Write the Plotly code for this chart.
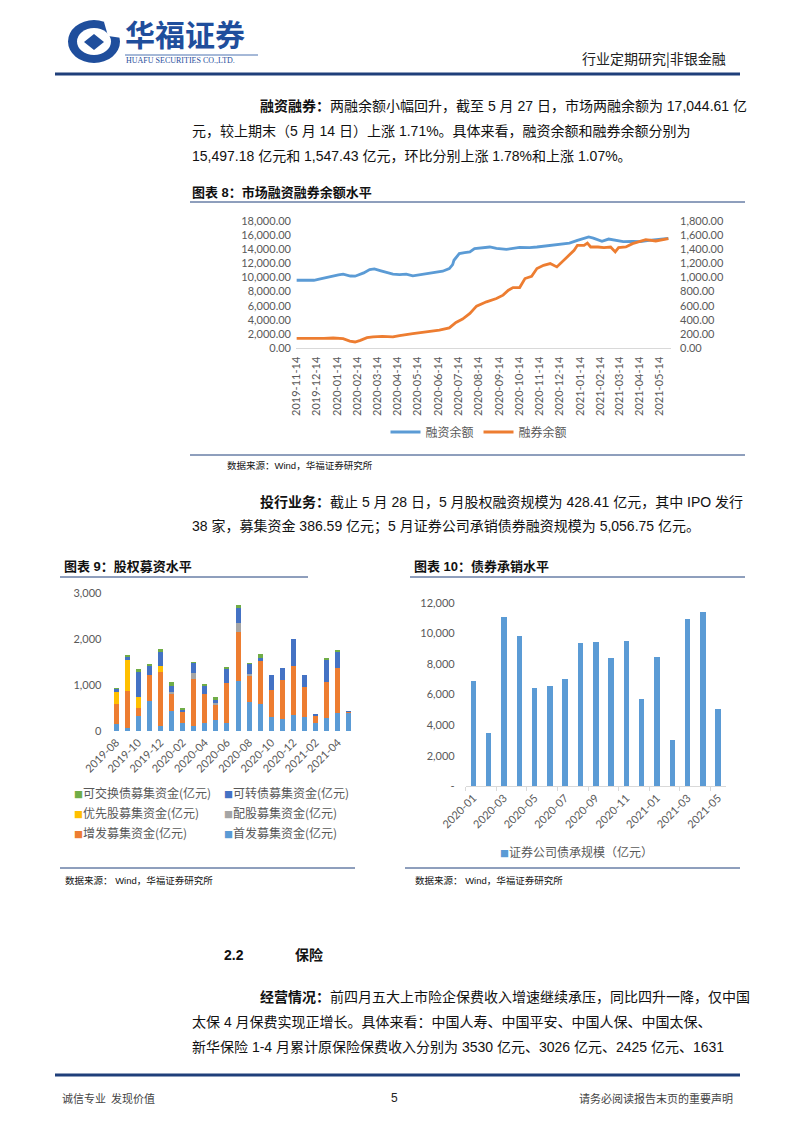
import plotly.graph_objects as go

W, H = 794, 1123
OFF = 8  # the page body adds an 8px margin around the figure


def px(x):
    return (x - OFF) / W


def py(y):
    return 1 - (y - OFF) / H


# ---------------- data ----------------
# 图表8: 融资余额 (left axis) / 融券余额 (right axis)
fin_dates = ['2019-11-14', '2019-11-21', '2019-12-03', '2019-12-10', '2019-12-18', '2019-12-28',
             '2020-01-08', '2020-01-16', '2020-01-23', '2020-02-03', '2020-02-10', '2020-02-17',
             '2020-02-23', '2020-03-03', '2020-03-10', '2020-03-20', '2020-03-30', '2020-04-07',
             '2020-04-17', '2020-04-27', '2020-05-07', '2020-05-14', '2020-05-22', '2020-06-06',
             '2020-06-21', '2020-07-01', '2020-07-06', '2020-07-08', '2020-07-13', '2020-07-16',
             '2020-07-24', '2020-08-01', '2020-08-08', '2020-08-20', '2020-08-31', '2020-09-10',
             '2020-09-25', '2020-10-15', '2020-10-30', '2020-11-10', '2020-11-20', '2020-12-05',
             '2020-12-18', '2020-12-29', '2021-01-10', '2021-01-20', '2021-01-27', '2021-02-03',
             '2021-02-10', '2021-02-16', '2021-02-26', '2021-03-09', '2021-03-20', '2021-04-03',
             '2021-04-15', '2021-04-28', '2021-05-10', '2021-05-20', '2021-05-27']
fin_values = [9600, 9580, 9520, 9600, 9750, 9980,
              10170, 10350, 10450, 10200, 10170, 10400,
              10640, 11110, 11200, 10920, 10600, 10450,
              10400, 10450, 10210, 10300, 10450, 10640,
              10870, 11250, 11800, 12420, 13100, 13360,
              13500, 13590, 14060, 14200, 14290, 14100,
              13950, 14250, 14200, 14290, 14400, 14620,
              14750, 14850, 15230, 15500, 15700, 15550,
              15330, 15090, 15410, 15230, 15050, 15090,
              15050, 15230, 15300, 15400, 15497]

sec_dates = ['2019-11-14', '2019-11-28', '2019-12-13', '2019-12-25', '2020-01-08', '2020-01-15',
             '2020-01-23', '2020-02-02', '2020-02-10', '2020-02-18', '2020-02-28', '2020-03-08',
             '2020-03-22', '2020-04-07', '2020-04-17', '2020-05-07', '2020-05-27', '2020-06-16',
             '2020-07-01', '2020-07-11', '2020-07-21', '2020-08-01', '2020-08-11', '2020-08-26',
             '2020-09-10', '2020-09-20', '2020-09-28', '2020-10-05', '2020-10-15', '2020-10-23',
             '2020-11-02', '2020-11-10', '2020-11-20', '2020-11-30', '2020-12-10', '2020-12-15',
             '2020-12-25', '2021-01-05', '2021-01-10', '2021-01-20', '2021-01-25', '2021-01-30',
             '2021-02-10', '2021-02-19', '2021-03-01', '2021-03-08', '2021-03-13', '2021-03-24',
             '2021-04-03', '2021-04-13', '2021-04-23', '2021-05-08', '2021-05-18', '2021-05-27']
sec_values = [140, 138, 136, 140, 145, 142,
              136, 101, 89, 112, 150, 160,
              168, 160, 180, 206, 230, 257,
              288, 365, 412, 492, 595, 656,
              703, 750, 820, 857, 857, 984,
              1017, 1125, 1171, 1195, 1148, 1195,
              1288, 1382, 1453, 1453, 1485, 1429,
              1429, 1420, 1429, 1359, 1420, 1429,
              1476, 1500, 1533, 1514, 1533, 1547]

tick8 = ['2019-11-14', '2019-12-14', '2020-01-14', '2020-02-14', '2020-03-14', '2020-04-14',
         '2020-05-14', '2020-06-14', '2020-07-14', '2020-08-14', '2020-09-14', '2020-10-14',
         '2020-11-14', '2020-12-14', '2021-01-14', '2021-02-14', '2021-03-14', '2021-04-14',
         '2021-05-14']

# 图表9: 股权募资水平 (亿元)
months9 = ['2019-08', '2019-09', '2019-10', '2019-11', '2019-12', '2020-01', '2020-02', '2020-03',
           '2020-04', '2020-05', '2020-06', '2020-07', '2020-08', '2020-09', '2020-10', '2020-11',
           '2020-12', '2021-01', '2021-02', '2021-03', '2021-04', '2021-05']
tick9 = ['2019-08', '2019-10', '2019-12', '2020-02', '2020-04', '2020-06', '2020-08', '2020-10',
         '2020-12', '2021-02', '2021-04']
ipo9 = [150, 75, 330, 650, 115, 445, 180, 110, 165, 240, 180, 1090, 640, 590, 300, 255, 340, 310, 165, 275, 385, 387]
seo9 = [440, 800, 180, 580, 1175, 375, 240, 1015, 640, 325, 870, 1075, 565, 935, 595, 855, 1080, 640, 160, 800, 980, 30]
rights9 = [0, 0, 0, 0, 0, 35, 0, 130, 0, 50, 0, 180, 30, 0, 0, 0, 0, 0, 0, 0, 0, 0]
pref9 = [270, 680, 225, 0, 120, 0, 0, 0, 0, 0, 0, 0, 0, 0, 0, 0, 0, 0, 0, 0, 0, 0]
cb9 = [50, 50, 560, 185, 315, 125, 40, 220, 180, 60, 310, 325, 220, 60, 325, 255, 595, 270, 45, 470, 365, 11]
eb9 = [20, 50, 55, 45, 55, 80, 35, 20, 15, 55, 10, 75, 5, 95, 0, 0, 0, 0, 0, 20, 15, 0]

# 图表10: 债券承销水平 (亿元)
months10 = ['2020-01', '2020-02', '2020-03', '2020-04', '2020-05', '2020-06', '2020-07', '2020-08',
            '2020-09', '2020-10', '2020-11', '2020-12', '2021-01', '2021-02', '2021-03', '2021-04',
            '2021-05']
tick10 = ['2020-01', '2020-03', '2020-05', '2020-07', '2020-09', '2020-11', '2021-01', '2021-03', '2021-05']
bond10 = [6890, 3480, 11050, 9830, 6450, 6560, 7040, 9370, 9420, 8370, 9500, 5690, 8440, 3030, 10920, 11380, 5057]
ytick10 = [0, 2000, 4000, 6000, 8000, 10000, 12000]
ytext10 = ['-', '2,000', '4,000', '6,000', '8,000', '10,000', '12,000']

# ---------------- styles ----------------
BLUE = '#5B9BD5'
ORANGE = '#ED7D31'
GRAY = '#A5A5A5'
YELLOW = '#FFC000'
DBLUE = '#4472C4'
GREEN = '#70AD47'
NAVY = '#1F3F7A'
LOGO = '#1F4E9C'
AXTXT = '#595959'
CJK = 'Noto Sans CJK SC'
BODY = 'Liberation Sans, Noto Sans CJK SC'
TICK = 'Lato, Liberation Sans, Noto Sans CJK SC'

fig = go.Figure()

# chart 8
fig.add_trace(go.Scatter(x=fin_dates, y=fin_values, mode='lines', name='融资余额',
                         line=dict(color=BLUE, width=2.8), xaxis='x', yaxis='y', legend='legend'))
fig.add_trace(go.Scatter(x=sec_dates, y=sec_values, mode='lines', name='融券余额',
                         line=dict(color=ORANGE, width=2.8), xaxis='x', yaxis='y2', legend='legend'))

# chart 9 (stack bottom -> top)
series9 = [('首发募集资金(亿元)', ipo9, BLUE), ('增发募集资金(亿元)', seo9, ORANGE),
           ('配股募集资金(亿元)', rights9, GRAY), ('优先股募集资金(亿元)', pref9, YELLOW),
           ('可转债募集资金(亿元)', cb9, DBLUE), ('可交换债募集资金(亿元)', eb9, GREEN)]
for name, vals, col in series9:
    fig.add_trace(go.Bar(x=months9, y=vals, name=name, marker=dict(color=col, line=dict(width=0)),
                         xaxis='x3', yaxis='y3', showlegend=False, width=0.45))

# chart 10
fig.add_trace(go.Bar(x=months10, y=bond10, name='证券公司债承规模（亿元）',
                     marker=dict(color=BLUE, line=dict(width=0)), xaxis='x4', yaxis='y4',
                     showlegend=False, width=0.36))

tickfont = dict(family=TICK, size=11, color=AXTXT)

fig.update_layout(
    width=W, height=H, margin=dict(l=0, r=0, t=0, b=0, pad=0, autoexpand=False),
    paper_bgcolor='white', plot_bgcolor='white',
    barmode='stack',
    showlegend=True,
    xaxis=dict(domain=[px(296), px(671)], anchor='y', type='date', automargin=False,
               range=['2019-11-13', '2021-05-31'], tickvals=tick8, tickformat='%Y-%m-%d',
               tickangle=-90, showgrid=False, zeroline=False, showline=True, linecolor='#D9D9D9',
               ticks='', tickfont=tickfont, ticklabelstandoff=3),
    yaxis=dict(domain=[py(348.3), py(220.7)], anchor='x', range=[0, 18000], dtick=2000,
               automargin=False,
               tickformat=',.2f', showgrid=False, zeroline=False, ticks='', tickfont=tickfont,
               ticklabelstandoff=4),
    yaxis2=dict(overlaying='y', side='right', anchor='x', range=[0, 1800], dtick=200,
                automargin=False,
                tickformat=',.2f', showgrid=False, zeroline=False, ticks='', tickfont=tickfont,
                ticklabelstandoff=8),
    xaxis3=dict(domain=[px(110.5), px(354.5)], anchor='y3', type='category', automargin=False,
                tickvals=tick9, ticktext=tick9, tickangle=-45, showgrid=False, zeroline=False,
                showline=False, ticks='', tickfont=tickfont, ticklabelstandoff=2),
    yaxis3=dict(domain=[py(731), py(593.3)], anchor='x3', range=[0, 3000], dtick=1000,
                automargin=False,
                tickformat=',', showgrid=False, zeroline=False, ticks='', tickfont=tickfont,
                ticklabelstandoff=8),
    xaxis4=dict(domain=[px(465.7), px(725.8)], anchor='y4', type='category', automargin=False,
                tickvals=tick10, ticktext=tick10, tickangle=-45, showgrid=False, zeroline=False,
                showline=True, linecolor='#D9D9D9', ticks='outside', tickson='boundaries',
                ticklen=4, tickcolor='#D9D9D9', tickfont=tickfont),
    yaxis4=dict(domain=[py(786.4), py(602.7)], anchor='x4', range=[0, 12000], automargin=False,
                tickvals=ytick10, ticktext=ytext10, showgrid=False, zeroline=False, ticks='',
                tickfont=tickfont, ticklabelstandoff=10),
    legend=dict(orientation='h', x=px(479), y=py(432), xanchor='center', yanchor='middle',
                font=dict(family=CJK, size=12, color=AXTXT), bgcolor='rgba(0,0,0,0)',
                itemwidth=30, traceorder='normal'),
)

annotations = []


def txt(x, y, text, size=14, color='#111111', anchor='left', family=BODY):
    annotations.append(dict(x=px(x), y=py(y), xref='paper', yref='paper', text=text,
                            showarrow=False, xanchor=anchor, yanchor='middle',
                            font=dict(family=family, size=size, color=color)))


# header
txt(123, 33, '<b>华福证券</b>', size=30, color=LOGO, family=CJK)
txt(124, 61, 'HUAFU SECURITIES CO.,LTD.', size=8, color=LOGO, family='Liberation Serif')
txt(728, 58, '行业定期研究|非银金融', size=14, color='#222222', anchor='right', family=CJK)

# paragraph 1
txt(258, 106, '<b>融资融券：</b>两融余额小幅回升，截至 5 月 27 日，市场两融余额为 17,044.61 亿')
txt(190, 131, '元，较上期末（5 月 14 日）上涨 1.71%。具体来看，融资余额和融券余额分别为')
txt(190, 156, '15,497.18 亿元和 1,547.43 亿元，环比分别上涨 1.78%和上涨 1.07%。')

txt(190, 192, '<b>图表 8：市场融资融券余额水平</b>', size=13)
txt(225, 465, '数据来源：Wind，华福证券研究所', size=9.5)

# paragraph 2
txt(258, 502, '<b>投行业务：</b>截止 5 月 28 日，5 月股权融资规模为 428.41 亿元，其中 IPO 发行')
txt(190, 527, '38 家，募集资金 386.59 亿元；5 月证券公司承销债券融资规模为 5,056.75 亿元。')

txt(62, 566, '<b>图表 9：股权募资水平</b>', size=13)
txt(412, 566, '<b>图表 10：债券承销水平</b>', size=13)
txt(63, 880, '数据来源： Wind，华福证券研究所', size=9.5)
txt(413, 880, '数据来源： Wind，华福证券研究所', size=9.5)

# chart 9 legend
leg9 = [(72, 792, GREEN, '可交换债募集资金(亿元)'), (222, 792, DBLUE, '可转债募集资金(亿元)'),
        (72, 812, YELLOW, '优先股募集资金(亿元)'), (222, 812, GRAY, '配股募集资金(亿元)'),
        (72, 832, ORANGE, '增发募集资金(亿元)'), (222, 832, BLUE, '首发募集资金(亿元)')]
for lx, ly, col, name in leg9:
    txt(lx, ly, f"<span style='color:{col};font-size:9px'>■</span>{name}", size=12,
        color=AXTXT, family=CJK)

# chart 10 legend
txt(576, 851, f"<span style='color:{BLUE};font-size:9px'>■</span>证券公司债承规模（亿元）",
    size=12, color=AXTXT, anchor='center', family=CJK)

# section 2.2
txt(222, 955, '<b>2.2</b>', size=14)
txt(293, 955, '<b>保险</b>', size=14)

# paragraph 3
txt(258, 997, '<b>经营情况：</b>前四月五大上市险企保费收入增速继续承压，同比四升一降，仅中国')
txt(190, 1022, '太保 4 月保费实现正增长。具体来看：中国人寿、中国平安、中国人保、中国太保、')
txt(190, 1047, '新华保险 1-4 月累计原保险保费收入分别为 3530 亿元、3026 亿元、2425 亿元、1631')

# footer
txt(60, 1098, '诚信专业  发现价值', size=11, color='#444444', family=CJK)
txt(394, 1098, '5', size=12, color='#222222', anchor='center')
txt(735, 1098, '请务必阅读报告末页的重要声明', size=11, color='#444444', anchor='right', family=CJK)

fig.update_layout(annotations=annotations)

shapes = []


def hline(x0, x1, y, color=NAVY, width=1):
    shapes.append(dict(type='line', xref='paper', yref='paper', x0=px(x0), x1=px(x1),
                       y0=py(y), y1=py(y), line=dict(color=color, width=width)))


hline(55, 740, 74, width=3)
hline(55, 740, 1075, width=3)
hline(190, 745, 202)
hline(190, 745, 455)
hline(60, 308, 577)
hline(410, 745, 577)
hline(60, 355, 868)
hline(405, 740, 868)
hline(125, 258, 55, color=LOGO, width=0.8)

# logo
shapes.append(dict(type='circle', xref='paper', yref='paper', x0=px(68), x1=px(120),
                   y0=py(63), y1=py(20), fillcolor=LOGO, line=dict(width=0)))
shapes.append(dict(type='circle', xref='paper', yref='paper', x0=px(77), x1=px(111),
                   y0=py(55), y1=py(28), fillcolor='white', line=dict(width=0)))
shapes.append(dict(type='path', xref='paper', yref='paper',
                   path=f'M {px(84)},{py(42)} L {px(94)},{py(34)} L {px(104)},{py(42)} L {px(94)},{py(50)} Z',
                   fillcolor=LOGO, line=dict(width=0)))
shapes.append(dict(type='path', xref='paper', yref='paper',
                   path=f'M {px(104)},{py(22)} L {px(122)},{py(22)} L {px(122)},{py(38)} L {px(108)},{py(36)} Z',
                   fillcolor='white', line=dict(width=0)))
fig.update_layout(shapes=shapes)

fig.write_html('out.html')
